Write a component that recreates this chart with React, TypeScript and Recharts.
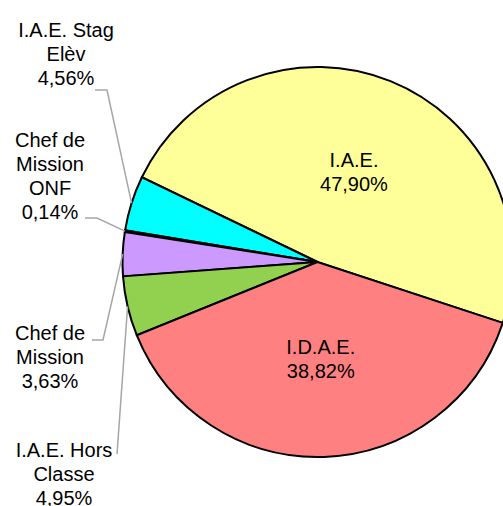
import { PieChart, Pie, Cell } from 'recharts'

const categories = ['I.A.E.', 'I.A.E. Stag\nElèv', 'Chef de\nMission\nONF', 'Chef de\nMission', 'I.A.E. Hors\nClasse', 'I.D.A.E.']
const shares = [47.9, 4.56, 0.14, 3.63, 4.95, 38.82]
const colors = ['#FFFF99', '#00FFFF', '#993366', '#CC99FF', '#92D050', '#FF8080']

const data = categories.map((name, i) => ({ name, value: shares[i] }))

// outside labels: text centre x, first baseline y, start of leader line + elbow
const outside: Record<number, { x: number; y: number; from: [number, number]; elbow?: [number, number] }> = {
  1: { x: 66, y: 37, from: [95, 90], elbow: [107, 90] },
  2: { x: 50, y: 147, from: [85, 218], elbow: [97, 218] },
  3: { x: 50, y: 340, from: [92, 340], elbow: [103, 340] },
  4: { x: 64, y: 457, from: [117, 454] },
}

const font = { fontFamily: '"Liberation Sans", Arial, sans-serif', fontSize: 20, fill: '#000' }
const RAD = Math.PI / 180

function fmt(v: number) {
  return v.toFixed(2).replace('.', ',') + '%'
}

function SliceLabel(props: any) {
  const { cx, cy, midAngle, outerRadius, index, name, value } = props
  const lines = [...String(name).split('\n'), fmt(value)]
  const lay = outside[index]
  if (!lay) {
    const r = outerRadius * 0.5
    const px = cx + r * Math.cos(-midAngle * RAD)
    const py = cy + r * Math.sin(-midAngle * RAD)
    return (
      <text textAnchor="middle" {...font}>
        {lines.map((l, i) => (
          <tspan key={i} x={px} y={py - 5 + i * 24}>{l}</tspan>
        ))}
      </text>
    )
  }
  const ex = cx + outerRadius * Math.cos(-midAngle * RAD)
  const ey = cy + outerRadius * Math.sin(-midAngle * RAD)
  const pts = [lay.from, ...(lay.elbow ? [lay.elbow] : []), [ex, ey]].map(p => p.join(',')).join(' ')
  return (
    <g>
      <polyline points={pts} fill="none" stroke="#A6A6A6" strokeWidth={1.5} />
      <text textAnchor="middle" {...font}>
        {lines.map((l, i) => (
          <tspan key={i} x={lay.x} y={lay.y + i * 24}>{l}</tspan>
        ))}
      </text>
    </g>
  )
}

export default function App() {
  return (
    <div style={{ position: 'absolute', left: 0, top: 0, width: 503, height: 506, background: '#fff' }}>
      <PieChart width={503} height={506} margin={{ top: 0, right: 0, bottom: 0, left: 0 }}>
        <Pie
          data={data}
          dataKey="value"
          nameKey="name"
          cx={317.5}
          cy={262}
          outerRadius={195}
          startAngle={-18.2}
          endAngle={341.8}
          stroke="#000"
          strokeWidth={2}
          label={SliceLabel}
          labelLine={false}
          isAnimationActive={false}
        >
          {data.map((d, i) => (
            <Cell key={d.name} fill={colors[i]} />
          ))}
        </Pie>
      </PieChart>
    </div>
  )
}
